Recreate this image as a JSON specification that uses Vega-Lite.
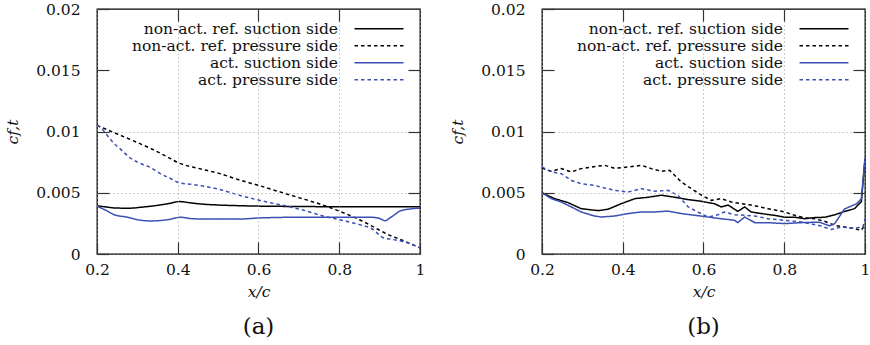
{
  "$schema": "https://vega.github.io/schema/vega-lite/v6.json",
  "padding": {"left": 4, "top": 1, "right": 0, "bottom": 0},
  "datasets": {
    "a": [
      {"s": "non-act. ref. suction side", "x": 0.2, "v": 0.00394},
      {"s": "non-act. ref. suction side", "x": 0.22, "v": 0.00385},
      {"s": "non-act. ref. suction side", "x": 0.25, "v": 0.00375},
      {"s": "non-act. ref. suction side", "x": 0.28, "v": 0.00374},
      {"s": "non-act. ref. suction side", "x": 0.31, "v": 0.00382},
      {"s": "non-act. ref. suction side", "x": 0.342, "v": 0.00394},
      {"s": "non-act. ref. suction side", "x": 0.375, "v": 0.0041},
      {"s": "non-act. ref. suction side", "x": 0.405, "v": 0.00428},
      {"s": "non-act. ref. suction side", "x": 0.43, "v": 0.00418},
      {"s": "non-act. ref. suction side", "x": 0.458, "v": 0.00408},
      {"s": "non-act. ref. suction side", "x": 0.5, "v": 0.004},
      {"s": "non-act. ref. suction side", "x": 0.557, "v": 0.00394},
      {"s": "non-act. ref. suction side", "x": 0.62, "v": 0.0039},
      {"s": "non-act. ref. suction side", "x": 0.7, "v": 0.00388},
      {"s": "non-act. ref. suction side", "x": 0.78, "v": 0.00386},
      {"s": "non-act. ref. suction side", "x": 0.9, "v": 0.00386},
      {"s": "non-act. ref. suction side", "x": 1.0, "v": 0.00386},
      {"s": "non-act. ref. pressure side", "x": 0.2, "v": 0.0105},
      {"s": "non-act. ref. pressure side", "x": 0.25, "v": 0.0098},
      {"s": "non-act. ref. pressure side", "x": 0.3, "v": 0.0091},
      {"s": "non-act. ref. pressure side", "x": 0.334, "v": 0.0086},
      {"s": "non-act. ref. pressure side", "x": 0.37, "v": 0.008},
      {"s": "non-act. ref. pressure side", "x": 0.405, "v": 0.0074},
      {"s": "non-act. ref. pressure side", "x": 0.45, "v": 0.007},
      {"s": "non-act. ref. pressure side", "x": 0.5, "v": 0.0066},
      {"s": "non-act. ref. pressure side", "x": 0.557, "v": 0.006},
      {"s": "non-act. ref. pressure side", "x": 0.6, "v": 0.0056},
      {"s": "non-act. ref. pressure side", "x": 0.65, "v": 0.0051},
      {"s": "non-act. ref. pressure side", "x": 0.7, "v": 0.0046},
      {"s": "non-act. ref. pressure side", "x": 0.75, "v": 0.0041},
      {"s": "non-act. ref. pressure side", "x": 0.8, "v": 0.0035},
      {"s": "non-act. ref. pressure side", "x": 0.85, "v": 0.0028},
      {"s": "non-act. ref. pressure side", "x": 0.88, "v": 0.0023},
      {"s": "non-act. ref. pressure side", "x": 0.92, "v": 0.0016},
      {"s": "non-act. ref. pressure side", "x": 0.95, "v": 0.0012},
      {"s": "non-act. ref. pressure side", "x": 1.0, "v": 0.0005},
      {"s": "act. suction side", "x": 0.2, "v": 0.0039},
      {"s": "act. suction side", "x": 0.22, "v": 0.0036},
      {"s": "act. suction side", "x": 0.243, "v": 0.0032},
      {"s": "act. suction side", "x": 0.276, "v": 0.003},
      {"s": "act. suction side", "x": 0.3, "v": 0.0028},
      {"s": "act. suction side", "x": 0.334, "v": 0.0027},
      {"s": "act. suction side", "x": 0.375, "v": 0.0028},
      {"s": "act. suction side", "x": 0.408, "v": 0.003},
      {"s": "act. suction side", "x": 0.43, "v": 0.0029},
      {"s": "act. suction side", "x": 0.458, "v": 0.00286},
      {"s": "act. suction side", "x": 0.557, "v": 0.00286},
      {"s": "act. suction side", "x": 0.6, "v": 0.00294},
      {"s": "act. suction side", "x": 0.7, "v": 0.003},
      {"s": "act. suction side", "x": 0.8, "v": 0.003},
      {"s": "act. suction side", "x": 0.879, "v": 0.003},
      {"s": "act. suction side", "x": 0.9, "v": 0.0029},
      {"s": "act. suction side", "x": 0.913, "v": 0.00272},
      {"s": "act. suction side", "x": 0.928, "v": 0.003},
      {"s": "act. suction side", "x": 0.953, "v": 0.00354},
      {"s": "act. suction side", "x": 0.975, "v": 0.00367},
      {"s": "act. suction side", "x": 1.0, "v": 0.00375},
      {"s": "act. pressure side", "x": 0.2, "v": 0.0105},
      {"s": "act. pressure side", "x": 0.21, "v": 0.0103},
      {"s": "act. pressure side", "x": 0.225, "v": 0.0097},
      {"s": "act. pressure side", "x": 0.24, "v": 0.0091},
      {"s": "act. pressure side", "x": 0.26, "v": 0.0085},
      {"s": "act. pressure side", "x": 0.28, "v": 0.0079},
      {"s": "act. pressure side", "x": 0.3, "v": 0.0075},
      {"s": "act. pressure side", "x": 0.33, "v": 0.0071},
      {"s": "act. pressure side", "x": 0.36, "v": 0.0065},
      {"s": "act. pressure side", "x": 0.38, "v": 0.0062},
      {"s": "act. pressure side", "x": 0.405, "v": 0.0058},
      {"s": "act. pressure side", "x": 0.43, "v": 0.0057},
      {"s": "act. pressure side", "x": 0.47, "v": 0.0055},
      {"s": "act. pressure side", "x": 0.5, "v": 0.0053},
      {"s": "act. pressure side", "x": 0.557, "v": 0.00476},
      {"s": "act. pressure side", "x": 0.6, "v": 0.0044},
      {"s": "act. pressure side", "x": 0.67, "v": 0.0039},
      {"s": "act. pressure side", "x": 0.72, "v": 0.0035},
      {"s": "act. pressure side", "x": 0.76, "v": 0.0031},
      {"s": "act. pressure side", "x": 0.8, "v": 0.0028},
      {"s": "act. pressure side", "x": 0.85, "v": 0.0024},
      {"s": "act. pressure side", "x": 0.879, "v": 0.0021},
      {"s": "act. pressure side", "x": 0.911, "v": 0.0013},
      {"s": "act. pressure side", "x": 0.93, "v": 0.0012},
      {"s": "act. pressure side", "x": 0.96, "v": 0.001},
      {"s": "act. pressure side", "x": 1.0, "v": 0.0005}
    ],
    "b": [
      {"s": "non-act. ref. suction side", "x": 0.2, "v": 0.005},
      {"s": "non-act. ref. suction side", "x": 0.231, "v": 0.00452},
      {"s": "non-act. ref. suction side", "x": 0.264, "v": 0.0042},
      {"s": "non-act. ref. suction side", "x": 0.297, "v": 0.0037},
      {"s": "non-act. ref. suction side", "x": 0.339, "v": 0.00354},
      {"s": "non-act. ref. suction side", "x": 0.363, "v": 0.00365},
      {"s": "non-act. ref. suction side", "x": 0.396, "v": 0.0041},
      {"s": "non-act. ref. suction side", "x": 0.43, "v": 0.00452},
      {"s": "non-act. ref. suction side", "x": 0.462, "v": 0.00463},
      {"s": "non-act. ref. suction side", "x": 0.496, "v": 0.0048},
      {"s": "non-act. ref. suction side", "x": 0.529, "v": 0.00463},
      {"s": "non-act. ref. suction side", "x": 0.562, "v": 0.00444},
      {"s": "non-act. ref. suction side", "x": 0.595, "v": 0.0043},
      {"s": "non-act. ref. suction side", "x": 0.628, "v": 0.0041},
      {"s": "non-act. ref. suction side", "x": 0.644, "v": 0.00384},
      {"s": "non-act. ref. suction side", "x": 0.661, "v": 0.004},
      {"s": "non-act. ref. suction side", "x": 0.685, "v": 0.00348},
      {"s": "non-act. ref. suction side", "x": 0.702, "v": 0.00384},
      {"s": "non-act. ref. suction side", "x": 0.718, "v": 0.00343},
      {"s": "non-act. ref. suction side", "x": 0.743, "v": 0.0033},
      {"s": "non-act. ref. suction side", "x": 0.776, "v": 0.00316},
      {"s": "non-act. ref. suction side", "x": 0.801, "v": 0.003},
      {"s": "non-act. ref. suction side", "x": 0.826, "v": 0.003},
      {"s": "non-act. ref. suction side", "x": 0.851, "v": 0.00288},
      {"s": "non-act. ref. suction side", "x": 0.875, "v": 0.00297},
      {"s": "non-act. ref. suction side", "x": 0.9, "v": 0.003},
      {"s": "non-act. ref. suction side", "x": 0.925, "v": 0.0032},
      {"s": "non-act. ref. suction side", "x": 0.95, "v": 0.00348},
      {"s": "non-act. ref. suction side", "x": 0.974, "v": 0.0037},
      {"s": "non-act. ref. suction side", "x": 0.991, "v": 0.00428},
      {"s": "non-act. ref. suction side", "x": 1.0, "v": 0.0078},
      {"s": "non-act. ref. pressure side", "x": 0.2, "v": 0.007},
      {"s": "non-act. ref. pressure side", "x": 0.223, "v": 0.00675},
      {"s": "non-act. ref. pressure side", "x": 0.248, "v": 0.00697},
      {"s": "non-act. ref. pressure side", "x": 0.273, "v": 0.0067},
      {"s": "non-act. ref. pressure side", "x": 0.297, "v": 0.00697},
      {"s": "non-act. ref. pressure side", "x": 0.322, "v": 0.0071},
      {"s": "non-act. ref. pressure side", "x": 0.355, "v": 0.00724},
      {"s": "non-act. ref. pressure side", "x": 0.38, "v": 0.007},
      {"s": "non-act. ref. pressure side", "x": 0.413, "v": 0.0071},
      {"s": "non-act. ref. pressure side", "x": 0.446, "v": 0.00724},
      {"s": "non-act. ref. pressure side", "x": 0.471, "v": 0.00697},
      {"s": "non-act. ref. pressure side", "x": 0.496, "v": 0.00675},
      {"s": "non-act. ref. pressure side", "x": 0.516, "v": 0.00683},
      {"s": "non-act. ref. pressure side", "x": 0.545, "v": 0.00588},
      {"s": "non-act. ref. pressure side", "x": 0.57, "v": 0.00533},
      {"s": "non-act. ref. pressure side", "x": 0.595, "v": 0.0048},
      {"s": "non-act. ref. pressure side", "x": 0.619, "v": 0.00438},
      {"s": "non-act. ref. pressure side", "x": 0.644, "v": 0.00452},
      {"s": "non-act. ref. pressure side", "x": 0.669, "v": 0.00424},
      {"s": "non-act. ref. pressure side", "x": 0.694, "v": 0.0041},
      {"s": "non-act. ref. pressure side", "x": 0.718, "v": 0.004},
      {"s": "non-act. ref. pressure side", "x": 0.76, "v": 0.0037},
      {"s": "non-act. ref. pressure side", "x": 0.801, "v": 0.00343},
      {"s": "non-act. ref. pressure side", "x": 0.826, "v": 0.00316},
      {"s": "non-act. ref. pressure side", "x": 0.851, "v": 0.00294},
      {"s": "non-act. ref. pressure side", "x": 0.875, "v": 0.00288},
      {"s": "non-act. ref. pressure side", "x": 0.9, "v": 0.00267},
      {"s": "non-act. ref. pressure side", "x": 0.925, "v": 0.00234},
      {"s": "non-act. ref. pressure side", "x": 0.95, "v": 0.0022},
      {"s": "non-act. ref. pressure side", "x": 0.974, "v": 0.00207},
      {"s": "non-act. ref. pressure side", "x": 0.99, "v": 0.00193},
      {"s": "non-act. ref. pressure side", "x": 1.0, "v": 0.00234},
      {"s": "act. suction side", "x": 0.2, "v": 0.005},
      {"s": "act. suction side", "x": 0.223, "v": 0.00452},
      {"s": "act. suction side", "x": 0.248, "v": 0.00424},
      {"s": "act. suction side", "x": 0.273, "v": 0.00384},
      {"s": "act. suction side", "x": 0.297, "v": 0.00343},
      {"s": "act. suction side", "x": 0.33, "v": 0.0031},
      {"s": "act. suction side", "x": 0.347, "v": 0.00302},
      {"s": "act. suction side", "x": 0.38, "v": 0.0031},
      {"s": "act. suction side", "x": 0.413, "v": 0.0033},
      {"s": "act. suction side", "x": 0.446, "v": 0.00343},
      {"s": "act. suction side", "x": 0.479, "v": 0.00343},
      {"s": "act. suction side", "x": 0.512, "v": 0.0035},
      {"s": "act. suction side", "x": 0.545, "v": 0.0033},
      {"s": "act. suction side", "x": 0.578, "v": 0.00316},
      {"s": "act. suction side", "x": 0.611, "v": 0.00302},
      {"s": "act. suction side", "x": 0.644, "v": 0.00288},
      {"s": "act. suction side", "x": 0.677, "v": 0.00275},
      {"s": "act. suction side", "x": 0.685, "v": 0.00256},
      {"s": "act. suction side", "x": 0.702, "v": 0.00302},
      {"s": "act. suction side", "x": 0.727, "v": 0.00256},
      {"s": "act. suction side", "x": 0.76, "v": 0.00256},
      {"s": "act. suction side", "x": 0.801, "v": 0.00248},
      {"s": "act. suction side", "x": 0.842, "v": 0.00256},
      {"s": "act. suction side", "x": 0.887, "v": 0.0026},
      {"s": "act. suction side", "x": 0.912, "v": 0.0023},
      {"s": "act. suction side", "x": 0.925, "v": 0.00248},
      {"s": "act. suction side", "x": 0.949, "v": 0.00367},
      {"s": "act. suction side", "x": 0.979, "v": 0.0041},
      {"s": "act. suction side", "x": 0.991, "v": 0.0045},
      {"s": "act. suction side", "x": 1.0, "v": 0.0078},
      {"s": "act. pressure side", "x": 0.2, "v": 0.0071},
      {"s": "act. pressure side", "x": 0.223, "v": 0.0067},
      {"s": "act. pressure side", "x": 0.248, "v": 0.00656},
      {"s": "act. pressure side", "x": 0.273, "v": 0.006},
      {"s": "act. pressure side", "x": 0.297, "v": 0.00574},
      {"s": "act. pressure side", "x": 0.33, "v": 0.0056},
      {"s": "act. pressure side", "x": 0.355, "v": 0.00539},
      {"s": "act. pressure side", "x": 0.38, "v": 0.0052},
      {"s": "act. pressure side", "x": 0.413, "v": 0.00506},
      {"s": "act. pressure side", "x": 0.446, "v": 0.00533},
      {"s": "act. pressure side", "x": 0.479, "v": 0.00512},
      {"s": "act. pressure side", "x": 0.512, "v": 0.0052},
      {"s": "act. pressure side", "x": 0.537, "v": 0.00479},
      {"s": "act. pressure side", "x": 0.562, "v": 0.00384},
      {"s": "act. pressure side", "x": 0.586, "v": 0.00343},
      {"s": "act. pressure side", "x": 0.611, "v": 0.00302},
      {"s": "act. pressure side", "x": 0.636, "v": 0.0032},
      {"s": "act. pressure side", "x": 0.652, "v": 0.00343},
      {"s": "act. pressure side", "x": 0.677, "v": 0.0032},
      {"s": "act. pressure side", "x": 0.702, "v": 0.00316},
      {"s": "act. pressure side", "x": 0.727, "v": 0.0031},
      {"s": "act. pressure side", "x": 0.76, "v": 0.00288},
      {"s": "act. pressure side", "x": 0.801, "v": 0.00275},
      {"s": "act. pressure side", "x": 0.842, "v": 0.00261},
      {"s": "act. pressure side", "x": 0.884, "v": 0.00234},
      {"s": "act. pressure side", "x": 0.917, "v": 0.00201},
      {"s": "act. pressure side", "x": 0.941, "v": 0.0022},
      {"s": "act. pressure side", "x": 0.974, "v": 0.00212},
      {"s": "act. pressure side", "x": 0.995, "v": 0.0022},
      {"s": "act. pressure side", "x": 1.0, "v": 0.00288}
    ]
  },
  "hconcat": [
    {
      "width": 323,
      "height": 245,
      "data": {"name": "a"},
      "title": {"text": "(a)", "orient": "bottom", "fontSize": 23, "fontWeight": "normal", "font": "DejaVu Serif", "color": "#111111", "offset": 16},
      "layer": [
        {
          "mark": {"type": "line", "strokeWidth": 1.5, "interpolate": "monotone"},
          "encoding": {
            "x": {"field": "x", "type": "quantitative", "scale": {"domain": [0.2, 1], "nice": false, "zero": false},
              "axis": {"orient": "bottom", "values": [0.2, 0.4, 0.6, 0.8, 1], "format": "~g", "labelFlush": false, "labelFont": "DejaVu Serif", "labelFontSize": 15.5, "labelColor": "#111111", "title": "x/c", "titleFont": "DejaVu Serif", "titleFontStyle": "italic", "titleFontWeight": "normal", "titleFontSize": 15.5, "titleColor": "#111111", "titlePadding": 7, "grid": true, "tickSize": -12, "labelPadding": 20, "zindex": 2}},
            "y": {"field": "v", "type": "quantitative", "scale": {"domain": [0, 0.02], "nice": false, "zero": false},
              "axis": {"orient": "left", "values": [0, 0.005, 0.01, 0.015, 0.02], "format": "~g", "labelFont": "DejaVu Serif", "labelFontSize": 15.5, "labelColor": "#111111", "title": "cf,t", "titleFont": "DejaVu Serif", "titleFontStyle": "italic", "titleFontWeight": "normal", "titleFontSize": 15.5, "titleColor": "#111111", "titlePadding": 15, "grid": true, "gridOpacity": {"condition": {"test": "datum.value > 0.012", "value": 0}, "value": 1}, "tickSize": -12, "labelPadding": 29, "zindex": 2}},
            "color": {"field": "s", "type": "nominal", "sort": null,
              "scale": {"domain": ["non-act. ref. suction side", "non-act. ref. pressure side", "act. suction side", "act. pressure side"], "range": ["#000000", "#000000", "#3b4fb5", "#3b4fb5"]},
              "legend": {"orient": "none", "legendX": 21, "legendY": 8, "title": null, "fillColor": "white", "padding": 4, "zindex": 1,
                "labelFont": "DejaVu Serif", "labelFontSize": 13.5, "labelColor": "#111111",
                "labelAlign": "right", "labelLimit": 400, "rowPadding": 0, "symbolType": "M-4.9,0H4.9", "symbolSize": 100, "symbolStrokeWidth": 1.5,
                "encode": {"labels": {"update": {"x": {"value": 216}, "fontSize": {"value": 15.5}}}, "symbols": {"update": {"x": {"value": 257}}}}}},
            "strokeDash": {"field": "s", "type": "nominal", "sort": null,
              "scale": {"domain": ["non-act. ref. suction side", "non-act. ref. pressure side", "act. suction side", "act. pressure side"], "range": [[1, 0], [3.5, 3], [1, 0], [3.5, 3]]},
              "legend": {"orient": "none", "legendX": 21, "legendY": 8, "title": null, "fillColor": "white", "padding": 4, "zindex": 1,
                "labelFont": "DejaVu Serif", "labelFontSize": 13.5, "labelColor": "#111111",
                "labelAlign": "right", "labelLimit": 400, "rowPadding": 0, "symbolType": "M-4.9,0H4.9", "symbolSize": 100, "symbolStrokeWidth": 1.5,
                "encode": {"labels": {"update": {"x": {"value": 216}, "fontSize": {"value": 15.5}}}, "symbols": {"update": {"x": {"value": 257}}}}}}
          }
        },
        {
          "mark": {"type": "point", "opacity": 0},
          "encoding": {
            "x": {"field": "x", "type": "quantitative", "axis": {"orient": "top", "values": [0.4, 0.6, 0.8], "labels": false, "title": null, "grid": false, "domain": false, "tickSize": -12, "zindex": 3}},
            "y": {"field": "v", "type": "quantitative", "axis": {"orient": "right", "values": [0.005, 0.01, 0.015], "labels": false, "title": null, "grid": false, "domain": false, "tickSize": -12, "zindex": 3}}
          }
        }
      ]
    },
    {
      "width": 323,
      "height": 245,
      "data": {"name": "b"},
      "title": {"text": "(b)", "orient": "bottom", "fontSize": 23, "fontWeight": "normal", "font": "DejaVu Serif", "color": "#111111", "offset": 16},
      "layer": [
        {
          "mark": {"type": "line", "strokeWidth": 1.5},
          "encoding": {
            "x": {"field": "x", "type": "quantitative", "scale": {"domain": [0.2, 1], "nice": false, "zero": false},
              "axis": {"orient": "bottom", "values": [0.2, 0.4, 0.6, 0.8, 1], "format": "~g", "labelFlush": false, "labelFont": "DejaVu Serif", "labelFontSize": 15.5, "labelColor": "#111111", "title": "x/c", "titleFont": "DejaVu Serif", "titleFontStyle": "italic", "titleFontWeight": "normal", "titleFontSize": 15.5, "titleColor": "#111111", "titlePadding": 7, "grid": true, "tickSize": -12, "labelPadding": 20, "zindex": 2}},
            "y": {"field": "v", "type": "quantitative", "scale": {"domain": [0, 0.02], "nice": false, "zero": false},
              "axis": {"orient": "left", "values": [0, 0.005, 0.01, 0.015, 0.02], "format": "~g", "labelFont": "DejaVu Serif", "labelFontSize": 15.5, "labelColor": "#111111", "title": "cf,t", "titleFont": "DejaVu Serif", "titleFontStyle": "italic", "titleFontWeight": "normal", "titleFontSize": 15.5, "titleColor": "#111111", "titlePadding": 15, "grid": true, "gridOpacity": {"condition": {"test": "datum.value > 0.012", "value": 0}, "value": 1}, "tickSize": -12, "labelPadding": 29, "zindex": 2}},
            "color": {"field": "s", "type": "nominal", "sort": null,
              "scale": {"domain": ["non-act. ref. suction side", "non-act. ref. pressure side", "act. suction side", "act. pressure side"], "range": ["#000000", "#000000", "#3b4fb5", "#3b4fb5"]},
              "legend": {"orient": "none", "legendX": 21, "legendY": 8, "title": null, "fillColor": "white", "padding": 4, "zindex": 1,
                "labelFont": "DejaVu Serif", "labelFontSize": 13.5, "labelColor": "#111111",
                "labelAlign": "right", "labelLimit": 400, "rowPadding": 0, "symbolType": "M-4.9,0H4.9", "symbolSize": 100, "symbolStrokeWidth": 1.5,
                "encode": {"labels": {"update": {"x": {"value": 216}, "fontSize": {"value": 15.5}}}, "symbols": {"update": {"x": {"value": 257}}}}}},
            "strokeDash": {"field": "s", "type": "nominal", "sort": null,
              "scale": {"domain": ["non-act. ref. suction side", "non-act. ref. pressure side", "act. suction side", "act. pressure side"], "range": [[1, 0], [3.5, 3], [1, 0], [3.5, 3]]},
              "legend": {"orient": "none", "legendX": 21, "legendY": 8, "title": null, "fillColor": "white", "padding": 4, "zindex": 1,
                "labelFont": "DejaVu Serif", "labelFontSize": 13.5, "labelColor": "#111111",
                "labelAlign": "right", "labelLimit": 400, "rowPadding": 0, "symbolType": "M-4.9,0H4.9", "symbolSize": 100, "symbolStrokeWidth": 1.5,
                "encode": {"labels": {"update": {"x": {"value": 216}, "fontSize": {"value": 15.5}}}, "symbols": {"update": {"x": {"value": 257}}}}}}
          }
        },
        {
          "mark": {"type": "point", "opacity": 0},
          "encoding": {
            "x": {"field": "x", "type": "quantitative", "axis": {"orient": "top", "values": [0.4, 0.6, 0.8], "labels": false, "title": null, "grid": false, "domain": false, "tickSize": -12, "zindex": 3}},
            "y": {"field": "v", "type": "quantitative", "axis": {"orient": "right", "values": [0.005, 0.01, 0.015], "labels": false, "title": null, "grid": false, "domain": false, "tickSize": -12, "zindex": 3}}
          }
        }
      ]
    }
  ],
  "spacing": 122,
  "bounds": "flush",
  "resolve": {"scale": {"color": "independent", "strokeDash": "independent"}},
  "config": {
    "font": "DejaVu Serif",
    "view": {"stroke": "#000000", "strokeWidth": 1.3},
    "axis": {"domain": false, "tickColor": "#333333", "tickWidth": 1.2, "gridColor": "#9a9a9a", "gridDash": [1, 3], "gridWidth": 1},
    "legend": {"labelFont": "DejaVu Serif"}
  }
}
